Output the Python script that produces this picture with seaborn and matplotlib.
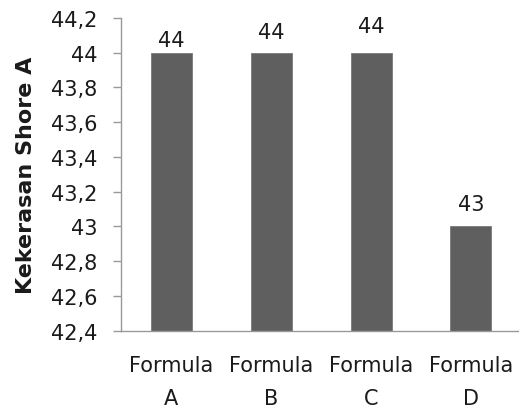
import matplotlib
matplotlib.use("Agg")
import matplotlib.pyplot as plt
import seaborn as sns
import pandas as pd

categories = ["Formula\nA", "Formula\nB", "Formula\nC", "Formula\nD"]
hardness = [44, 44, 44, 43]
y_ticks = [42.4, 42.6, 42.8, 43.0, 43.2, 43.4, 43.6, 43.8, 44.0, 44.2]

sns.set_theme(style="white")
plt.rcParams["font.family"] = ["DejaVu Sans"]

df = pd.DataFrame({"formula": categories, "hardness": hardness})

fig = plt.figure(figsize=(5.19, 4.10), dpi=100)
ax = fig.add_axes([121 / 519, (410 - 331.5) / 410, 398 / 519, (331.5 - 19) / 410])

sns.barplot(data=df, x="formula", y="hardness", color="#5f5f5f", width=0.41,
            saturation=1, ax=ax, edgecolor="#7a7a7a", linewidth=0.6)

ax.set_ylim(42.4, 44.2)
ax.set_xlim(-0.5, 3.48)
ax.set_yticks(y_ticks)
ax.set_yticklabels([f"{v:g}".replace(".", ",") for v in y_ticks])

# value labels above each bar
label_offsets = [2, 8, 12, 9]
for i, (v, off) in enumerate(zip(hardness, label_offsets)):
    ax.annotate(f"{v:g}", xy=(i, v), xytext=(0, off), textcoords="offset points",
                ha="center", va="bottom", fontsize=15, color="#1a1a1a")

for side in ["top", "right"]:
    ax.spines[side].set_visible(False)
for side in ["left", "bottom"]:
    ax.spines[side].set_color("#999999")
    ax.spines[side].set_linewidth(1.0)

ax.tick_params(axis="y", left=True, length=6, width=1, color="#999999",
               labelsize=15, labelcolor="#1a1a1a", pad=11)
ax.tick_params(axis="x", bottom=False, labelsize=15, labelcolor="#1a1a1a", pad=12)
for lbl in ax.get_xticklabels():
    lbl.set_linespacing(1.8)

ax.set_xlabel("")
ax.set_ylabel("Kekerasan Shore A", fontsize=16, fontweight="bold", color="#1a1a1a", labelpad=11)

fig.savefig("out.png", dpi=100)
